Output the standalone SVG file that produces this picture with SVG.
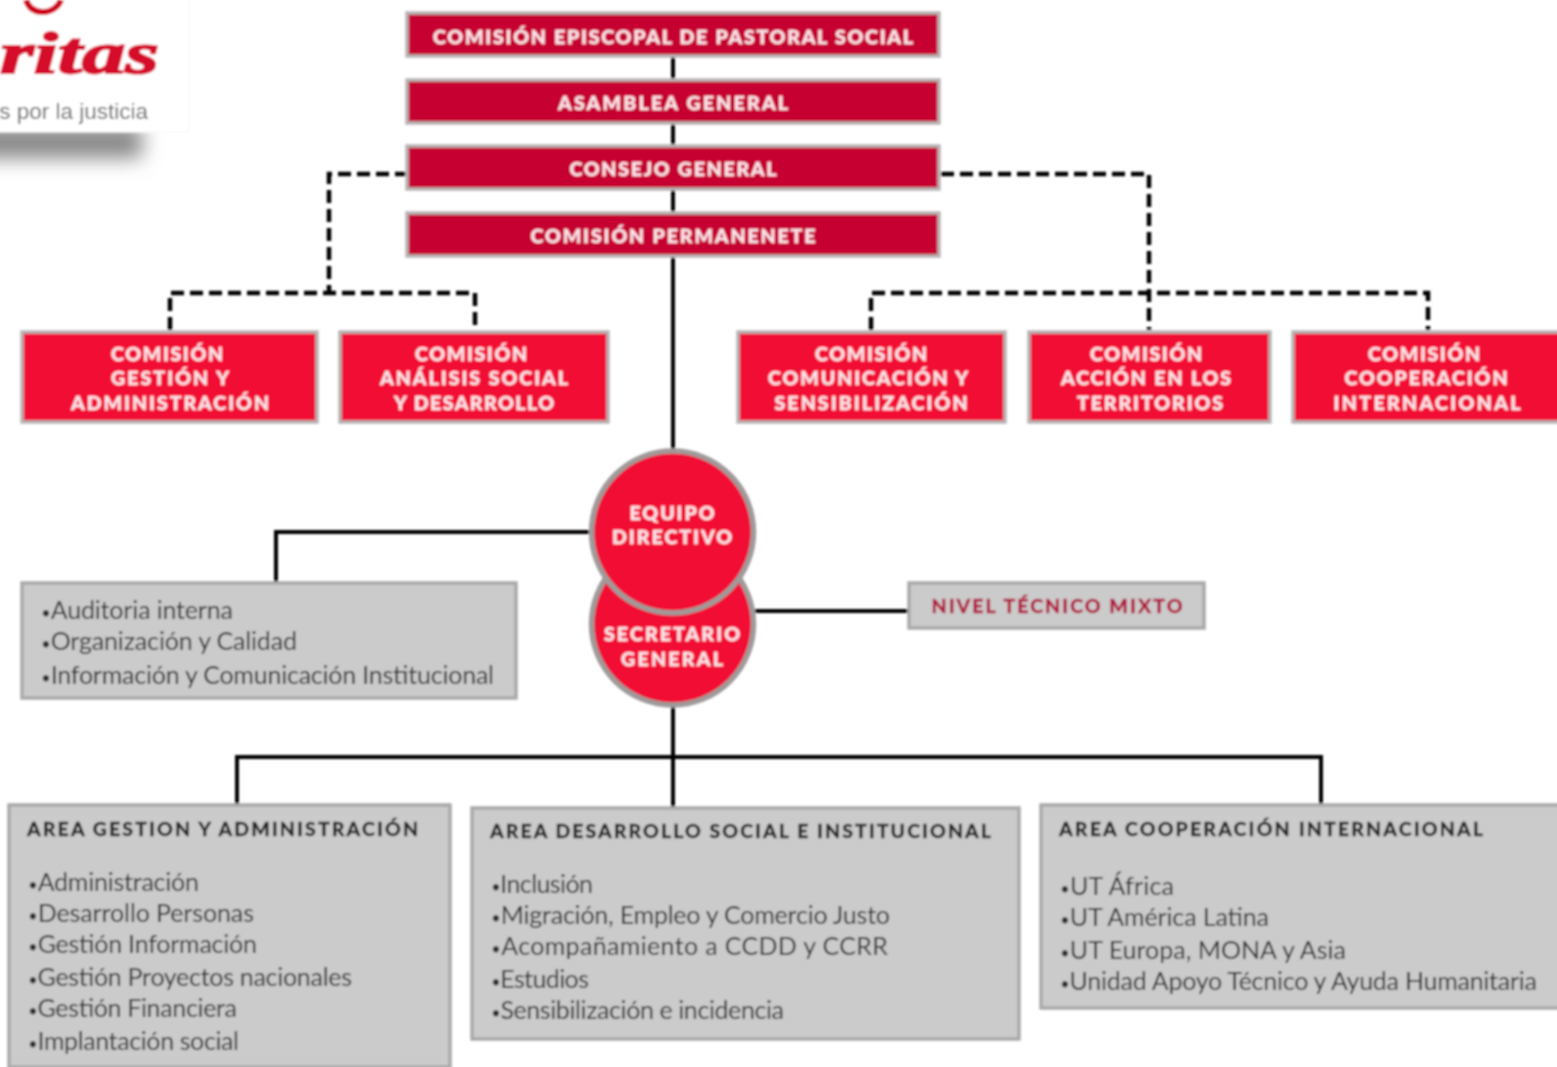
<svg xmlns="http://www.w3.org/2000/svg" width="1557" height="1067" viewBox="0 0 1557 1067">
<style>
.d{fill:#c70033;stroke:#b8b4b4;stroke-width:3.500}
.r{fill:#f20d35;stroke:#b8b4b4;stroke-width:3.500}
.g{fill:#cbcbcb;stroke:#a9a9a9;stroke-width:3.500}
.c{fill:#f20d35;stroke:#a09a9a;stroke-width:5.500}
.h{font:900 19.500px "Lato","Liberation Sans",sans-serif;fill:#fbe6ea;text-anchor:middle;stroke:#fbe6ea;stroke-width:.3}
.a{font:900 19.500px "Lato","Liberation Sans",sans-serif;fill:#222;stroke:#222;stroke-width:.3}
.t{font:25px "Lato","Liberation Sans",sans-serif;fill:#2e2e2e}
.u{font-size:17px}
.s{fill:none;stroke:#000;stroke-width:4}
.k{fill:none;stroke:#000;stroke-width:4.500;stroke-dasharray:13 6}
</style>
<defs>
<filter id="b" x="-30%" y="-150%" width="160%" height="400%"><feGaussianBlur stdDeviation="10"/></filter>
<filter id="soft" x="0" y="0" width="1557" height="1067" filterUnits="userSpaceOnUse"><feGaussianBlur stdDeviation="1"/></filter>
</defs>
<g filter="url(#soft)">
<g id="logo">
<rect x="-30" y="126" width="172" height="32" fill="#858585" filter="url(#b)"/>
<rect x="-2" y="-2" width="191" height="134" fill="#fff" stroke="#f6f6f6"/>
<path d="M26 0C29 9 36 12 43 12C50 12 58 8 61 0" fill="none" stroke="#d0021b" stroke-width="6"/>
<text x="0" y="73" textLength="159" lengthAdjust="spacingAndGlyphs" font-family="'Liberation Serif',serif" font-weight="bold" font-style="italic" font-size="60" fill="#d6082b" stroke="#d6082b" stroke-width="2">ritas</text>
<text x="148" y="119" text-anchor="end" font-family="'Liberation Sans',sans-serif" font-size="22.500" fill="#666">s por la justicia</text>
</g>
<g id="connectors">
<path class="s" d="M673 50V460M673 700V810M237 805V757H1321V805M590 532H276V584M752 611H910"/>
<path class="k" d="M408 174H329V293M170 330V293H475V330M941 174H1149V330M871 330V293H1428V330"/>
</g>
<g id="n1"><rect class="d" x="407" y="13" width="532" height="43"/><text class="h" x="673" y="44" textLength="480">COMISIÓN EPISCOPAL DE PASTORAL SOCIAL</text></g>
<g id="n2"><rect class="d" x="407" y="80" width="532" height="43"/><text class="h" x="673" y="110" textLength="230">ASAMBLEA GENERAL</text></g>
<g id="n3"><rect class="d" x="407" y="146" width="532" height="43"/><text class="h" x="673" y="176" textLength="207">CONSEJO GENERAL</text></g>
<g id="n4"><rect class="d" x="407" y="213" width="532" height="43"/><text class="h" x="673" y="243" textLength="285">COMISIÓN PERMANENETE</text></g>
<g id="c1"><rect class="r" x="22" y="332" width="295" height="90"/><text class="h" x="167" y="361" textLength="112">COMISIÓN</text><text class="h" x="170" y="385" textLength="118">GESTIÓN Y</text><text class="h" x="170" y="410" textLength="198">ADMINISTRACIÓN</text></g>
<g id="c2"><rect class="r" x="340" y="332" width="268" height="90"/><text class="h" x="471" y="361" textLength="112">COMISIÓN</text><text class="h" x="474" y="385" textLength="188">ANÁLISIS SOCIAL</text><text class="h" x="474" y="410" textLength="160">Y DESARROLLO</text></g>
<g id="c3"><rect class="r" x="738" y="332" width="267" height="90"/><text class="h" x="871" y="361" textLength="112">COMISIÓN</text><text class="h" x="868" y="385" textLength="200">COMUNICACIÓN Y</text><text class="h" x="871" y="410" textLength="193">SENSIBILIZACIÓN</text></g>
<g id="c4"><rect class="r" x="1029" y="332" width="241" height="90"/><text class="h" x="1146" y="361" textLength="112">COMISIÓN</text><text class="h" x="1146" y="385" textLength="170">ACCIÓN EN LOS</text><text class="h" x="1150" y="410" textLength="146">TERRITORIOS</text></g>
<g id="c5"><rect class="r" x="1293" y="332" width="270" height="90"/><text class="h" x="1424" y="361" textLength="112">COMISIÓN</text><text class="h" x="1426" y="385" textLength="163">COOPERACIÓN</text><text class="h" x="1427" y="410" textLength="187">INTERNACIONAL</text></g>
<g id="secretario"><circle class="c" cx="672.500" cy="624" r="81"/><text class="h" x="672" y="641" textLength="136">SECRETARIO</text><text class="h" x="672" y="666" textLength="102">GENERAL</text></g>
<g id="equipo"><circle class="c" cx="672.500" cy="532" r="81"/><text class="h" x="672" y="520" textLength="85">EQUIPO</text><text class="h" x="672" y="544" textLength="120">DIRECTIVO</text></g>
<g id="nivel"><rect class="g" x="909" y="583" width="295" height="45"/><text class="h" x="1057" y="613" textLength="251" style="fill:#b0113a;stroke:#b0113a">NIVEL TÉCNICO MIXTO</text></g>
<g id="staff"><rect class="g" x="22" y="583" width="494" height="115"/><text class="t" x="41" y="619" textLength="192"><tspan class="u">•</tspan>Auditoria interna</text><text class="t" x="41" y="650" textLength="256"><tspan class="u">•</tspan>Organización y Calidad</text><text class="t" x="41" y="684" textLength="453"><tspan class="u">•</tspan>Información y Comunicación Institucional</text></g>
<g id="area1"><rect class="g" x="9" y="805" width="441" height="262"/><text class="a" x="27" y="836" textLength="391">AREA GESTION Y ADMINISTRACIÓN</text><text class="t" x="28" y="891" textLength="171"><tspan class="u">•</tspan>Administración</text><text class="t" x="28" y="922" textLength="226"><tspan class="u">•</tspan>Desarrollo Personas</text><text class="t" x="28" y="953" textLength="229"><tspan class="u">•</tspan>Gestión Información</text><text class="t" x="28" y="986" textLength="324"><tspan class="u">•</tspan>Gestión Proyectos nacionales</text><text class="t" x="28" y="1017" textLength="209"><tspan class="u">•</tspan>Gestión Financiera</text><text class="t" x="28" y="1050" textLength="211"><tspan class="u">•</tspan>Implantación social</text></g>
<g id="area2"><rect class="g" x="472" y="808" width="547" height="231"/><text class="a" x="490" y="838" textLength="501">AREA DESARROLLO SOCIAL E INSTITUCIONAL</text><text class="t" x="491" y="893" textLength="102"><tspan class="u">•</tspan>Inclusión</text><text class="t" x="491" y="924" textLength="399"><tspan class="u">•</tspan>Migración, Empleo y Comercio Justo</text><text class="t" x="491" y="955" textLength="397"><tspan class="u">•</tspan>Acompañamiento a CCDD y CCRR</text><text class="t" x="491" y="988" textLength="98"><tspan class="u">•</tspan>Estudios</text><text class="t" x="491" y="1019" textLength="293"><tspan class="u">•</tspan>Sensibilización e incidencia</text></g>
<g id="area3"><rect class="g" x="1041" y="805" width="525" height="203"/><text class="a" x="1059" y="836" textLength="424">AREA COOPERACIÓN INTERNACIONAL</text><text class="t" x="1060" y="895" textLength="114"><tspan class="u">•</tspan>UT África</text><text class="t" x="1060" y="926" textLength="209"><tspan class="u">•</tspan>UT América Latina</text><text class="t" x="1060" y="959" textLength="286"><tspan class="u">•</tspan>UT Europa, MONA y Asia</text><text class="t" x="1060" y="990" textLength="477"><tspan class="u">•</tspan>Unidad Apoyo Técnico y Ayuda Humanitaria</text></g>
</g>
</svg>
